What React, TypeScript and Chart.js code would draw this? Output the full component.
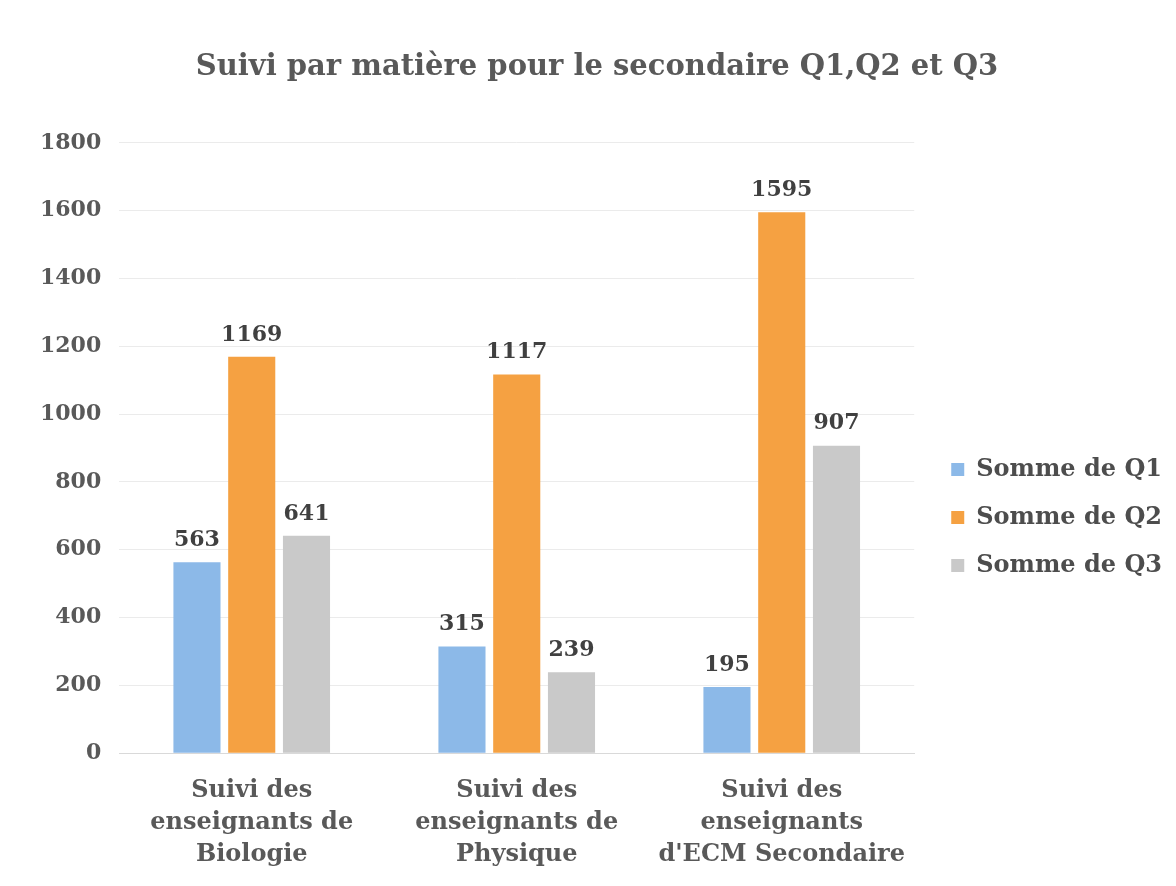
import React, { useEffect, useRef } from "react";
import { Chart, registerables } from "chart.js";

Chart.register(...registerables);

const categories: string[][] = [
  ["Suivi des", "enseignants de", "Biologie"],
  ["Suivi des", "enseignants de", "Physique"],
  ["Suivi des", "enseignants", "d'ECM Secondaire"],
];
const seriesNames = ["Somme de Q1", "Somme de Q2", "Somme de Q3"];
const q1Values = [563, 315, 195];
const q2Values = [1169, 1117, 1595];
const q3Values = [641, 239, 907];
const seriesColors = ["#8cb9e8", "#f5a142", "#c9c9c9"];
const yTicks = [0, 200, 400, 600, 800, 1000, 1200, 1400, 1600, 1800];
const titleText = "Suivi par matière pour le secondaire Q1,Q2 et Q3";

const FONT = "'DejaVu Serif', 'Liberation Serif', serif";

const dataLabelPlugin = {
  id: "dataLabels",
  afterDatasetsDraw(chart: any) {
    const ctx = chart.ctx;
    ctx.save();
    ctx.font = `bold 22px ${FONT}`;
    ctx.fillStyle = "#404040";
    ctx.textAlign = "center";
    ctx.textBaseline = "bottom";
    chart.data.datasets.forEach((ds: any, i: number) => {
      const meta = chart.getDatasetMeta(i);
      meta.data.forEach((bar: any, j: number) => {
        ctx.fillText(String(ds.data[j]), bar.x, bar.y - 11);
      });
    });
    ctx.restore();
  },
};

const legendShiftPlugin = {
  id: "legendShift",
  beforeInit(chart: any) {
    const legend = chart.legend;
    if (!legend) return;
    const origFit = legend.fit;
    legend.fit = function () {
      origFit.call(this);
      this.width += 13;
    };
    const origDraw = legend.draw;
    legend.draw = function () {
      const ctx = this.ctx;
      ctx.save();
      ctx.translate(13, 70);
      origDraw.call(this);
      ctx.restore();
    };
  },
};

export default function App() {
  const ref = useRef<HTMLCanvasElement>(null);
  useEffect(() => {
    if (!ref.current) return;
    const chart = new Chart(ref.current, {
      type: "bar",
      data: {
        labels: categories,
        datasets: [q1Values, q2Values, q3Values].map((vals, i) => ({
          label: seriesNames[i],
          data: vals,
          backgroundColor: seriesColors[i],
          borderWidth: 0,
          categoryPercentage: 0.62,
          barPercentage: 0.86,
        })),
      },
      options: {
        responsive: false,
        animation: false,
        layout: { padding: { left: 22, right: 4, top: 10, bottom: 1 } },
        plugins: {
          title: {
            display: true,
            text: titleText,
            color: "#595959",
            font: { family: FONT, size: 29, weight: "bold" },
            padding: { top: 40, bottom: 58 },
          },
          legend: {
            position: "right",
            labels: {
              color: "#4d4d4d",
              font: { family: FONT, size: 24, weight: "bold" },
              boxWidth: 13,
              boxHeight: 13,
              padding: 24,
            },
          },
          tooltip: { enabled: false },
        },
        scales: {
          x: {
            grid: { display: false },
            border: { color: "#d9d9d9" },
            ticks: {
              color: "#595959",
              font: { family: FONT, size: 24, weight: "bold", lineHeight: 1.33 },
              maxRotation: 0,
              padding: 14,
            },
          },
          y: {
            min: 0,
            max: 1800,
            afterBuildTicks(scale: any) {
              scale.ticks = yTicks.map((v) => ({ value: v }));
            },
            grid: { color: "#ebebeb", drawTicks: false },
            border: { display: false },
            ticks: {
              color: "#595959",
              font: { family: FONT, size: 22, weight: "bold" },
              padding: 18,
              callback: (v: any) => String(v),
            },
          },
        },
      },
      plugins: [dataLabelPlugin, legendShiftPlugin],
    });
    return () => chart.destroy();
  }, []);
  return (
    <div style={{ position: "absolute", left: 0, top: 0, width: 1176, height: 886, background: "#fff" }}>
      <canvas ref={ref} width={1176} height={886} />
    </div>
  );
}
